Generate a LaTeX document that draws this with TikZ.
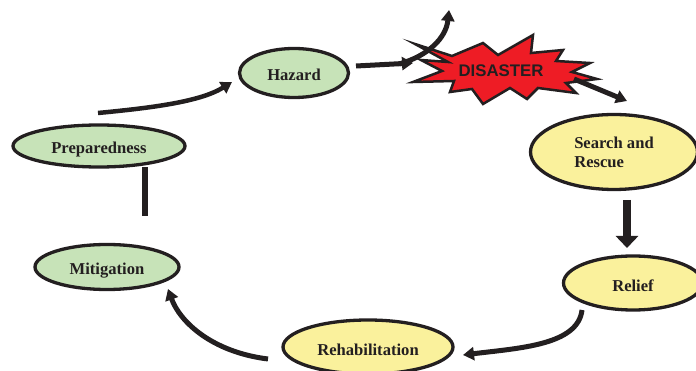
\documentclass[tikz,border=0pt]{standalone}
\usepackage{fontspec}
\setmainfont{Liberation Serif}
\newfontfamily\burstfont{Liberation Sans}
\usetikzlibrary{arrows.meta,shapes.geometric}

\definecolor{outline}{HTML}{231F20}
\definecolor{phasegreen}{HTML}{C7E3B8}
\definecolor{phaseyellow}{HTML}{FAF19C}
\definecolor{burstred}{HTML}{EE1C25}

\begin{document}
\begin{tikzpicture}[x=1pt, y=-1pt,
			phase/.style={ellipse, draw=outline, line width=3.3pt, inner sep=0pt,
				font=\fontsize{16.6}{19}\selectfont\bfseries, text=outline},
			one line/.style={text height=16pt, text depth=0pt},
			green phase/.style={phase, one line, fill=phasegreen},
			yellow phase/.style={phase, one line, fill=phaseyellow},
			flow/.style={draw=outline, line width=5pt, -{Triangle[length=11pt,width=13pt]}},
			big flow/.style={draw=outline, line width=8pt, -{Triangle[length=12pt,width=22pt]}}
			]
			\useasboundingbox (0,0) rectangle (696,371);
			
			% Phases of the cycle
			\node[green phase, minimum width=109pt, minimum height=49pt] (hazard) at (294,73) {Hazard};
			\node[green phase, minimum width=172pt, minimum height=42pt] (preparedness) at (99,146) {Preparedness};
			\node[green phase, minimum width=144pt, minimum height=45pt] (mitigation) at (107,267) {Mitigation};
			\node[yellow phase, minimum width=170pt, minimum height=54pt] (rehabilitation) at (368,347) {Rehabilitation};
			\node[yellow phase, minimum width=139pt, minimum height=54pt] (relief) at (633,283) {Relief};
			\node[phase, fill=phaseyellow, minimum width=167pt, minimum height=75pt, align=left] (search) at (614,152) {Search and\\Rescue};
			
			% The burst
			\draw[fill=burstred, draw=outline, line width=2.5pt, line join=miter, miter limit=20]
				(415,44) -- (452,56) -- (483,43) -- (498,55) -- (533,35) -- (531,53)
				-- (563,50) -- (556,61) -- (590,63) -- (572,72) -- (597,79) -- (566,83)
				-- (576,93) -- (538,88) -- (527,99) -- (510,88) -- (483,104) -- (472,89)
				-- (450,92) -- (454,81) -- (413,82) -- (442,71) -- (421,60) -- (448,62) -- cycle;
			\node[font=\burstfont\bfseries\fontsize{16.8}{19}\selectfont, text=outline, inner sep=0pt] (disaster) at (501,71) {DISASTER};
			
			% Loose ends of the connectors
			\coordinate (hazard out) at (356,66);
			\coordinate (burst in) at (413,63);
			\coordinate (blast from) at (399,64);
			\coordinate (blast to) at (449,10);
			\coordinate (burst out) at (574,79);
			\coordinate (search in) at (627,101);
			\coordinate (search out) at (627,200);
			\coordinate (relief in) at (627,248);
			\coordinate (relief out) at (582,310);
			\coordinate (rehab in) at (463,355);
			\coordinate (rehab out) at (268,359);
			\coordinate (mitigation in) at (168,289);
			\coordinate (prep out) at (145,167);
			\coordinate (prep stub) at (145,216);
			\coordinate (prep up) at (98,113);
			\coordinate (hazard in) at (232,82);
			
			% Connectors
			\draw[flow] (hazard out) -- (burst in);
			\draw[flow] (blast from) .. controls (428,56) and (446,38) .. (blast to);
			\draw[flow] (burst out) -- (search in);
			\draw[big flow] (search out) -- (relief in);
			\draw[flow] (relief out) .. controls (578,345) and (520,348) .. (rehab in);
			\draw[flow] (rehab out) .. controls (212,352) and (180,322) .. (mitigation in);
			\draw[draw=outline, line width=6pt] (prep out) -- (prep stub);
			\draw[flow, line width=4.5pt] (prep up) .. controls (150,108) and (200,102) .. (hazard in);
			
		\end{tikzpicture}
\end{document}
